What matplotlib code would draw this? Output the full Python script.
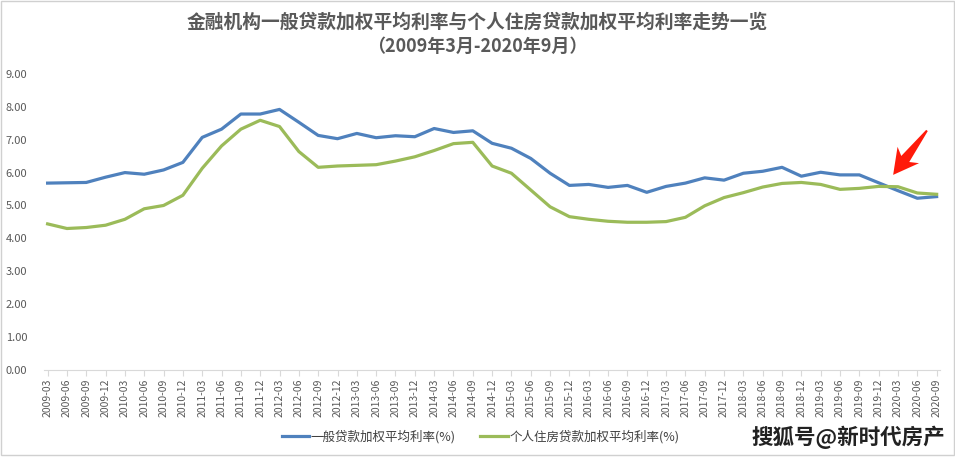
import numpy as np
import matplotlib.pyplot as plt
import matplotlib.patches as mpatches
import matplotlib.transforms as mtransforms

plt.rcParams['font.family'] = ['Noto Sans CJK SC', 'DejaVu Sans']

quarters = ['2009-03', '2009-06', '2009-09', '2009-12', '2010-03', '2010-06', '2010-09', '2010-12',
            '2011-03', '2011-06', '2011-09', '2011-12', '2012-03', '2012-06', '2012-09', '2012-12',
            '2013-03', '2013-06', '2013-09', '2013-12', '2014-03', '2014-06', '2014-09', '2014-12',
            '2015-03', '2015-06', '2015-09', '2015-12', '2016-03', '2016-06', '2016-09', '2016-12',
            '2017-03', '2017-06', '2017-09', '2017-12', '2018-03', '2018-06', '2018-09', '2018-12',
            '2019-03', '2019-06', '2019-09', '2019-12', '2020-03', '2020-06', '2020-09']

general_rate = [5.68, 5.69, 5.70, 5.86, 6.00, 5.95, 6.08, 6.31,
                7.07, 7.32, 7.78, 7.78, 7.92, 7.53, 7.13, 7.03,
                7.19, 7.06, 7.12, 7.09, 7.34, 7.22, 7.27, 6.89,
                6.74, 6.43, 5.98, 5.61, 5.64, 5.55, 5.61, 5.40,
                5.58, 5.68, 5.84, 5.77, 5.98, 6.04, 6.16, 5.89,
                6.01, 5.93, 5.93, 5.69, 5.45, 5.22, 5.27]

housing_rate = [4.44, 4.30, 4.33, 4.40, 4.58, 4.90, 5.00, 5.31,
                6.13, 6.81, 7.32, 7.59, 7.40, 6.64, 6.16, 6.20,
                6.22, 6.24, 6.35, 6.48, 6.67, 6.88, 6.92, 6.20,
                5.98, 5.47, 4.96, 4.66, 4.58, 4.52, 4.49, 4.49,
                4.51, 4.64, 4.99, 5.24, 5.39, 5.56, 5.67, 5.70,
                5.64, 5.49, 5.52, 5.58, 5.57, 5.38, 5.34]

y_ticks = [0, 1, 2, 3, 4, 5, 6, 7, 8, 9]

fig = plt.figure(figsize=(9.55, 4.59), dpi=100)
ax = fig.add_axes([0.046, 0.194, 0.938, 0.645])

x = list(range(len(quarters)))
ax.plot(x, general_rate, color='#4F81BD', lw=2.3, label='一般贷款加权平均利率(%)')
ax.plot(x, housing_rate, color='#9BBB59', lw=2.3, label='个人住房贷款加权平均利率(%)')

ax.set_xlim(-0.19, 46.16)
ax.set_ylim(0, 9)
ax.set_yticks(y_ticks)
ax.set_yticklabels([f'{v:.2f}' for v in y_ticks], fontsize=8, color='#595959')
ax.set_xticks(x)
ax.set_xticklabels(quarters, rotation=90, fontsize=7.5, color='#595959')
ax.tick_params(axis='y', length=0, pad=12)
ax.tick_params(axis='x', length=4, color='#D9D9D9', pad=2)

for s in ['top', 'right', 'left']:
    ax.spines[s].set_visible(False)
ax.spines['bottom'].set_color('#D9D9D9')

# red arrow pointing at the crossing (tapered tail, swept-back head), built in pixels
tip = ax.transData.transform((43.75, 5.93))
tail = ax.transData.transform((45.5, 7.28))
d = (tip - tail) / np.linalg.norm(tip - tail)
n = np.array([-d[1], d[0]])
head_len, neck_w, head_w = 20, 5.0, 13.5
verts = [tail + n * 1.0, tip - d * head_len + n * neck_w, tip - d * (head_len + 5) + n * head_w,
         tip, tip - d * (head_len + 5) - n * head_w, tip - d * head_len - n * neck_w, tail - n * 1.0]
fig.add_artist(mpatches.Polygon(verts, closed=True, color='#FF1A0A', lw=0,
                                transform=mtransforms.IdentityTransform()))

fig.text(0.5, 0.952, '金融机构一般贷款加权平均利率与个人住房贷款加权平均利率走势一览',
         ha='center', va='center', fontsize=13.5, color='#595959', fontweight='bold')
fig.text(0.5, 0.899, '（2009年3月-2020年9月）', ha='center', va='center',
         fontsize=13, color='#595959', fontweight='bold')

fig.legend(loc='center', bbox_to_anchor=(0.503, 0.048), ncol=2, frameon=False,
           fontsize=9, handlelength=2.2, handletextpad=0.1, columnspacing=2.0,
           labelcolor='#404040')

fig.text(0.99, 0.048, '搜狐号@新时代房产', ha='right', va='center',
         fontsize=15.5, color='#222222', fontweight='bold')

fig.add_artist(mpatches.Rectangle((0.001, 0.008), 0.998, 0.99, transform=fig.transFigure,
                                  fill=False, ec='#D0D0D0', lw=1))

fig.savefig('out.png', dpi=100)
